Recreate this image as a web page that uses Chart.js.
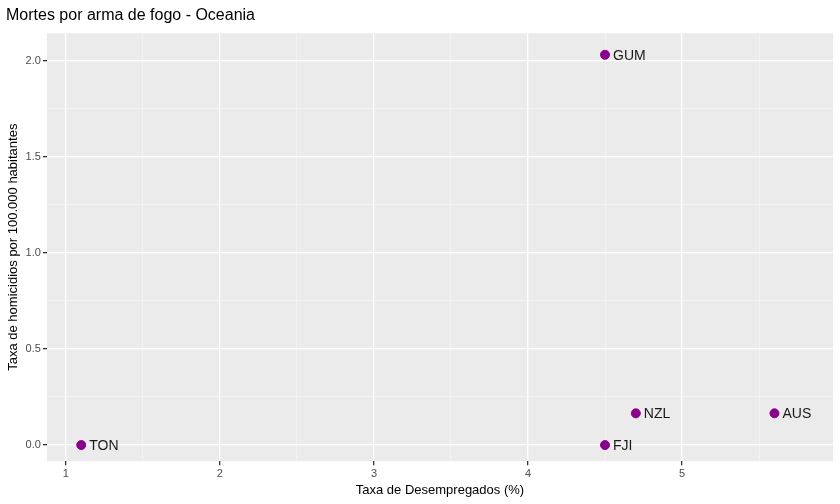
<!DOCTYPE html>
<html>
<head>
<meta charset="utf-8">
<script src="https://cdn.jsdelivr.net/npm/chart.js@4"></script>
<style>
  body { margin: 0; background: #fff; }
</style>
</head>
<body>
<canvas id="chart" width="840" height="504"></canvas>
<script>
const countries = ['TON', 'FJI', 'NZL', 'AUS', 'GUM'];
const unemployment = [1.1, 4.5, 4.7, 5.6, 4.5];
const homicides = [0.0, 0.0, 0.165, 0.165, 2.03];

const panelBg = {
  id: 'panelBg',
  beforeDraw(chart) {
    const { ctx, chartArea: a } = chart;
    ctx.save();
    ctx.fillStyle = '#EBEBEB';
    ctx.fillRect(a.left, a.top, a.right - a.left, a.bottom - a.top);
    ctx.restore();
  },
};

const pointLabels = {
  id: 'pointLabels',
  afterDatasetsDraw(chart) {
    const { ctx } = chart;
    const meta = chart.getDatasetMeta(0);
    ctx.save();
    ctx.font = '14px "Liberation Sans", Arial, sans-serif';
    ctx.fillStyle = '#1a1a1a';
    ctx.textBaseline = 'middle';
    meta.data.forEach((pt, i) => {
      ctx.fillText(countries[i], pt.x + 8, pt.y + 1);
    });
    ctx.restore();
  },
};

new Chart(document.getElementById('chart'), {
  type: 'scatter',
  data: {
    datasets: [{
      data: unemployment.map((x, i) => ({ x, y: homicides[i] })),
      backgroundColor: '#8B008B',
      borderColor: '#8B008B',
      pointRadius: 4.5,
      pointHoverRadius: 4.5,
    }],
  },
  options: {
    responsive: false,
    animation: false,
    layout: { padding: { right: 7, left: 6, bottom: 4 } },
    plugins: {
      legend: { display: false },
      tooltip: { enabled: false },
      title: {
        display: true,
        text: 'Mortes por arma de fogo - Oceania',
        align: 'start',
        color: '#000',
        font: { size: 16, family: '"Liberation Sans", Arial, sans-serif', weight: 'normal' },
        padding: { top: 6, bottom: 8 },
      },
    },
    scales: {
      x: {
        type: 'linear',
        min: 0.877,
        max: 5.98,
        afterBuildTicks(axis) {
          axis.ticks = [1, 1.5, 2, 2.5, 3, 3.5, 4, 4.5, 5, 5.5].map((v) => ({ value: v }));
        },
        ticks: {
          autoSkip: false,
          maxRotation: 0,
          color: '#4D4D4D',
          font: { size: 11, family: '"Liberation Sans", Arial, sans-serif' },
          callback: (v) => (Number.isInteger(v) ? v : ''),
          padding: 2,
        },
        grid: {
          color: (c) => (Number.isInteger(c.tick && c.tick.value) ? '#FFFFFF' : '#F5F5F5'),
          lineWidth: (c) => (Number.isInteger(c.tick && c.tick.value) ? 1.3 : 0.7),
          tickColor: (c) => (Number.isInteger(c.tick && c.tick.value) ? '#333333' : 'rgba(0,0,0,0)'),
          tickLength: 4,
        },
        border: { display: false },
        title: {
          display: true,
          text: 'Taxa de Desempregados (%)',
          color: '#000',
          font: { size: 13, family: '"Liberation Sans", Arial, sans-serif' },
          padding: { top: 0, bottom: 2 },
        },
      },
      y: {
        min: -0.084,
        max: 2.142,
        afterBuildTicks(axis) {
          axis.ticks = [0, 0.25, 0.5, 0.75, 1, 1.25, 1.5, 1.75, 2].map((v) => ({ value: v }));
        },
        ticks: {
          autoSkip: false,
          color: '#4D4D4D',
          font: { size: 11, family: '"Liberation Sans", Arial, sans-serif' },
          callback: (v) => ((v * 2) % 1 === 0 ? v.toFixed(1) : ''),
          padding: 2,
        },
        grid: {
          color: (c) => (c.tick && (c.tick.value * 2) % 1 === 0 ? '#FFFFFF' : '#F5F5F5'),
          lineWidth: (c) => (c.tick && (c.tick.value * 2) % 1 === 0 ? 1.3 : 0.7),
          tickColor: (c) => (c.tick && (c.tick.value * 2) % 1 === 0 ? '#333333' : 'rgba(0,0,0,0)'),
          tickLength: 4,
        },
        border: { display: false },
        title: {
          display: true,
          text: 'Taxa de homicidios por 100.000 habitantes',
          color: '#000',
          font: { size: 13, family: '"Liberation Sans", Arial, sans-serif' },
          padding: { top: 0, bottom: 2 },
        },
      },
    },
  },
  plugins: [panelBg, pointLabels],
});
</script>
</body>
</html>
